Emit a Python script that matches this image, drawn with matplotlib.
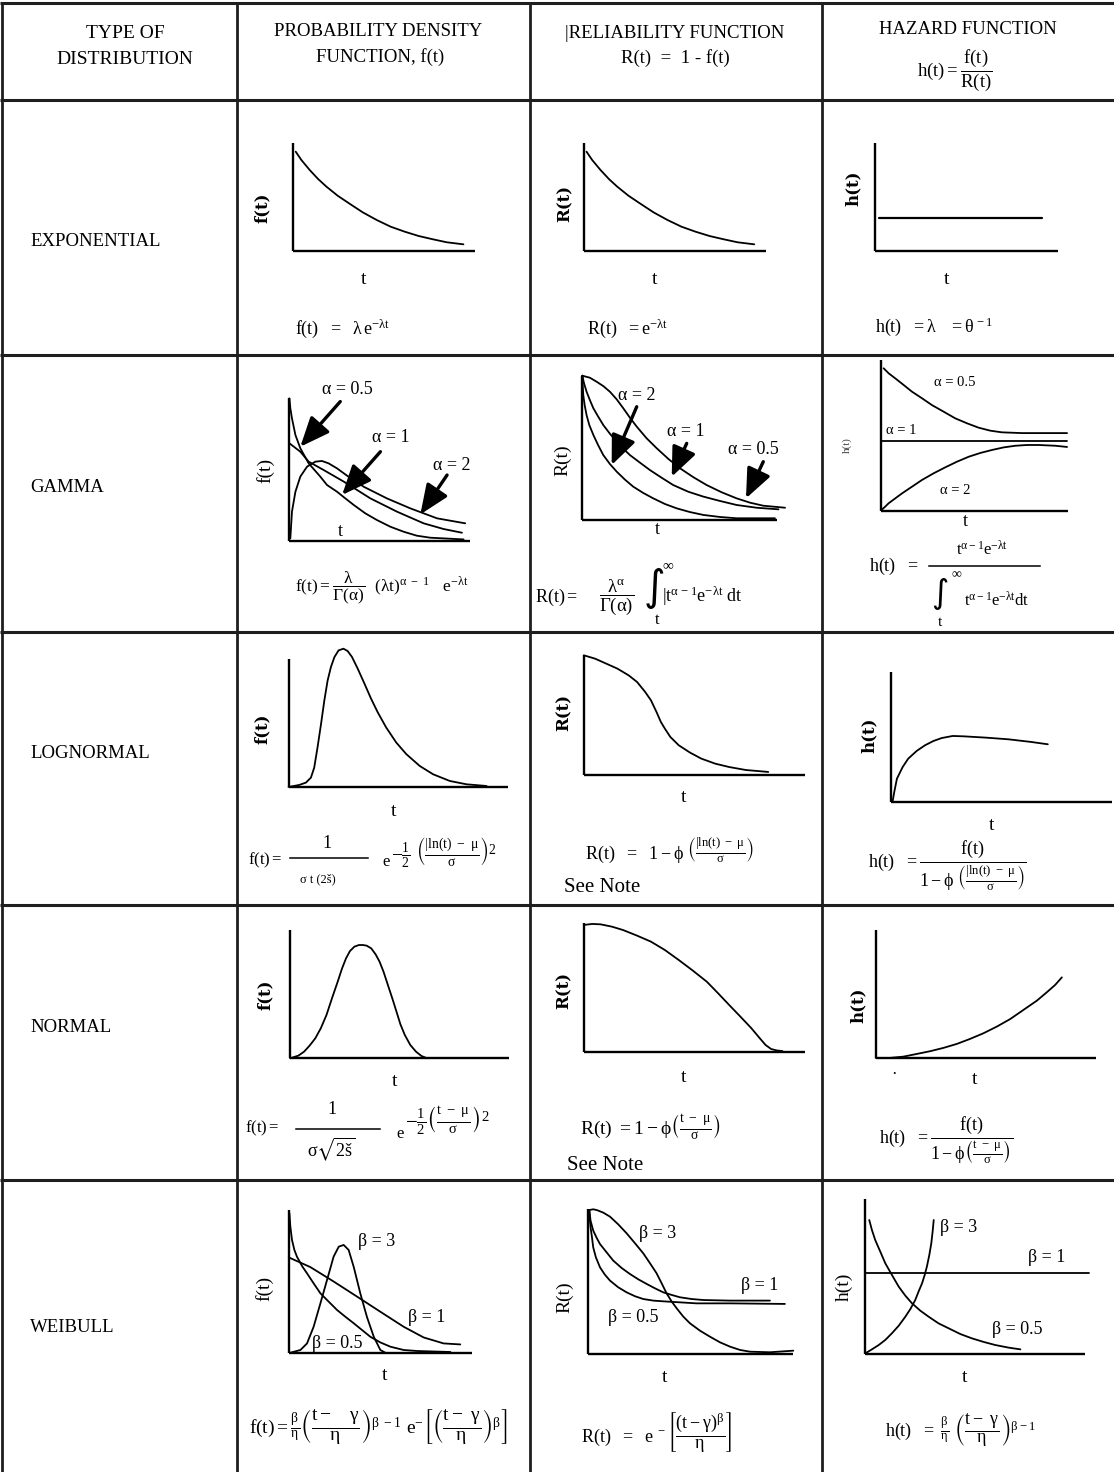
import matplotlib
matplotlib.use('Agg')
import matplotlib.pyplot as plt

W, H = 1114, 1472
plt.rcParams['font.family'] = ['Liberation Serif', 'DejaVu Serif']
plt.rcParams['mathtext.fontset'] = 'custom'
plt.rcParams['mathtext.rm'] = 'Liberation Serif'
plt.rcParams['mathtext.it'] = 'Liberation Serif'
plt.rcParams['mathtext.bf'] = 'Liberation Serif:bold'
plt.rcParams['mathtext.default'] = 'rm'
plt.rcParams['mathtext.fallback'] = 'stix'

# ------------------------------------------------------------------ data
distributions = ['EXPONENTIAL', 'GAMMA', 'LOGNORMAL', 'NORMAL', 'WEIBULL']
col_title_1 = ['TYPE OF', 'DISTRIBUTION']
col_title_2 = ['PROBABILITY DENSITY', 'FUNCTION, f(t)']
col_title_3 = ['|RELIABILITY FUNCTION', 'R(t)  =  1 - f(t)']
col_title_4 = ['HAZARD FUNCTION', r'$h(t) = \dfrac{f(t)}{R(t)}$']

# curve shapes (t and value as fractions of each small axis)
exp_t = [0.015, 0.046, 0.092, 0.138, 0.184, 0.246, 0.308, 0.384, 0.461, 0.538, 0.615, 0.692, 0.769, 0.846, 0.938]
exp_v = [0.917, 0.840, 0.747, 0.664, 0.593, 0.509, 0.439, 0.355, 0.284, 0.222, 0.176, 0.136, 0.106, 0.078, 0.059]
exp_h_t = [0.025, 0.915]
exp_h_v = [0.30, 0.30]

gamma_alpha_labels = ['\u03b1 = 0.5', '\u03b1 = 1', '\u03b1 = 2']
gam_f_a05_t = [0.004, 0.009, 0.018, 0.037, 0.064, 0.110, 0.174, 0.211, 0.266, 0.312, 0.358, 0.422, 0.486, 0.560, 0.633, 0.706, 0.780, 0.963]
gam_f_a05_v = [1.0, 0.930, 0.859, 0.742, 0.649, 0.543, 0.450, 0.391, 0.344, 0.297, 0.251, 0.192, 0.145, 0.098, 0.063, 0.035, 0.021, 0.009]
gam_f_a1_t = [0.004, 0.064, 0.110, 0.193, 0.303, 0.450, 0.596, 0.743, 0.853, 0.954]
gam_f_a1_v = [0.684, 0.625, 0.555, 0.496, 0.415, 0.297, 0.204, 0.122, 0.082, 0.056]
gam_f_a2_t = [0.009, 0.018, 0.037, 0.064, 0.101, 0.147, 0.183, 0.220, 0.266, 0.321, 0.413, 0.541, 0.670, 0.817, 0.972]
gam_f_a2_v = [0.016, 0.204, 0.344, 0.450, 0.520, 0.555, 0.560, 0.543, 0.508, 0.457, 0.379, 0.297, 0.227, 0.157, 0.122]

gam_R_top_t = [0.0, 0.039, 0.074, 0.108, 0.142, 0.177, 0.211, 0.245, 0.280, 0.331, 0.383, 0.443, 0.503, 0.572, 0.640, 0.717, 0.794, 0.863, 0.931, 1.043]
gam_R_top_v = [1.0, 0.986, 0.958, 0.928, 0.889, 0.836, 0.774, 0.709, 0.647, 0.566, 0.497, 0.423, 0.358, 0.296, 0.242, 0.192, 0.150, 0.120, 0.099, 0.085]
gam_R_mid_t = [0.0, 0.009, 0.022, 0.039, 0.057, 0.082, 0.108, 0.142, 0.177, 0.211, 0.245, 0.297, 0.348, 0.408, 0.468, 0.545, 0.623, 0.708, 0.794, 0.897, 1.009]
gam_R_mid_v = [1.0, 0.947, 0.889, 0.831, 0.774, 0.716, 0.658, 0.598, 0.543, 0.494, 0.450, 0.397, 0.346, 0.293, 0.242, 0.196, 0.162, 0.132, 0.104, 0.085, 0.074]
gam_R_low_t = [0.0, 0.002, 0.005, 0.012, 0.022, 0.036, 0.057, 0.081, 0.108, 0.142, 0.177, 0.220, 0.262, 0.314, 0.365, 0.425, 0.485, 0.554, 0.623, 0.708, 0.794, 0.991]
gam_R_low_v = [1.0, 0.935, 0.866, 0.797, 0.727, 0.658, 0.589, 0.520, 0.450, 0.388, 0.335, 0.279, 0.231, 0.187, 0.150, 0.111, 0.081, 0.055, 0.035, 0.021, 0.012, 0.012]

gam_h_a05_t = [0.0125, 0.039, 0.075, 0.120, 0.164, 0.218, 0.271, 0.334, 0.396, 0.459, 0.521, 0.584, 0.646, 0.754, 0.995]
gam_h_a05_v = [0.945, 0.912, 0.878, 0.834, 0.790, 0.746, 0.701, 0.657, 0.613, 0.580, 0.551, 0.531, 0.520, 0.515, 0.515]
gam_h_a1_t = [0.0, 0.995]
gam_h_a1_v = [0.465, 0.465]
gam_h_a2_t = [0.0, 0.021, 0.039, 0.075, 0.111, 0.164, 0.218, 0.280, 0.343, 0.405, 0.468, 0.530, 0.593, 0.655, 0.718, 0.780, 0.843, 0.932, 0.995]
gam_h_a2_v = [0.004, 0.027, 0.049, 0.082, 0.115, 0.159, 0.204, 0.248, 0.288, 0.325, 0.358, 0.383, 0.403, 0.420, 0.431, 0.436, 0.436, 0.431, 0.423]

log_f_t = [0.0, 0.049, 0.079, 0.102, 0.117, 0.132, 0.148, 0.163, 0.178, 0.193, 0.209, 0.228, 0.250, 0.269, 0.289, 0.315, 0.346, 0.376, 0.406, 0.444, 0.490, 0.536, 0.597, 0.658, 0.734, 0.810, 0.901]
log_f_v = [0.0, 0.016, 0.034, 0.073, 0.151, 0.308, 0.491, 0.674, 0.830, 0.935, 1.013, 1.065, 1.078, 1.060, 1.013, 0.922, 0.804, 0.687, 0.582, 0.465, 0.347, 0.256, 0.164, 0.099, 0.047, 0.021, 0.008]
log_R_t = [0.0, 0.051, 0.101, 0.152, 0.203, 0.241, 0.278, 0.304, 0.329, 0.349, 0.367, 0.392, 0.430, 0.481, 0.532, 0.595, 0.658, 0.734, 0.835]
log_R_v = [1.0, 0.972, 0.931, 0.889, 0.833, 0.778, 0.694, 0.625, 0.528, 0.444, 0.389, 0.319, 0.250, 0.189, 0.139, 0.097, 0.069, 0.044, 0.028]
log_h_t = [0.005, 0.013, 0.025, 0.051, 0.076, 0.114, 0.152, 0.190, 0.228, 0.278, 0.329, 0.430, 0.532, 0.633, 0.709]
log_h_v = [0.0, 0.077, 0.179, 0.269, 0.333, 0.392, 0.436, 0.469, 0.492, 0.508, 0.505, 0.495, 0.482, 0.462, 0.444]

nor_f_t = [0.0, 0.038, 0.064, 0.089, 0.115, 0.140, 0.166, 0.191, 0.217, 0.237, 0.255, 0.273, 0.293, 0.314, 0.332, 0.349, 0.370, 0.390, 0.408, 0.426, 0.446, 0.467, 0.485, 0.503, 0.523, 0.548, 0.574, 0.599, 0.625]
nor_f_v = [0.0, 0.021, 0.052, 0.099, 0.156, 0.234, 0.338, 0.468, 0.597, 0.701, 0.779, 0.836, 0.870, 0.883, 0.883, 0.878, 0.857, 0.810, 0.753, 0.675, 0.571, 0.462, 0.364, 0.265, 0.182, 0.104, 0.052, 0.018, 0.0]
nor_R_t = [0.0, 0.038, 0.076, 0.127, 0.177, 0.241, 0.304, 0.367, 0.430, 0.494, 0.557, 0.608, 0.658, 0.709, 0.759, 0.797, 0.823, 0.848, 0.873, 0.899]
nor_R_v = [0.987, 0.995, 0.992, 0.974, 0.948, 0.904, 0.857, 0.792, 0.714, 0.631, 0.545, 0.455, 0.364, 0.273, 0.182, 0.104, 0.052, 0.021, 0.010, 0.005]
nor_h_t = [0.0, 0.065, 0.126, 0.187, 0.247, 0.308, 0.369, 0.429, 0.490, 0.551, 0.612, 0.672, 0.733, 0.778, 0.816, 0.847]
nor_h_v = [0.003, 0.003, 0.013, 0.034, 0.055, 0.081, 0.112, 0.151, 0.195, 0.247, 0.306, 0.377, 0.449, 0.514, 0.571, 0.631]

weibull_beta_labels = ['\u03b2 = 3', '\u03b2 = 1', '\u03b2 = 0.5']
wei_f_b05_t = [0.004, 0.009, 0.018, 0.031, 0.045, 0.073, 0.100, 0.136, 0.173, 0.218, 0.264, 0.309, 0.355, 0.400, 0.445, 0.500, 0.555, 0.627, 0.700, 0.882]
wei_f_b05_v = [0.977, 0.883, 0.790, 0.720, 0.673, 0.607, 0.556, 0.486, 0.416, 0.358, 0.299, 0.252, 0.206, 0.159, 0.112, 0.072, 0.042, 0.019, 0.012, 0.005]
wei_f_b1_t = [0.0, 0.118, 0.245, 0.373, 0.500, 0.627, 0.736, 0.845, 0.936]
wei_f_b1_v = [0.668, 0.600, 0.499, 0.393, 0.287, 0.182, 0.107, 0.065, 0.058]
wei_f_b3_t = [0.009, 0.064, 0.100, 0.136, 0.173, 0.209, 0.245, 0.273, 0.300, 0.327, 0.355, 0.391, 0.427, 0.464, 0.500, 0.527]
wei_f_b3_v = [0.0, 0.019, 0.065, 0.182, 0.346, 0.509, 0.673, 0.743, 0.755, 0.720, 0.600, 0.414, 0.250, 0.112, 0.019, 0.0]

wei_R_b3_t = [0.005, 0.024, 0.041, 0.073, 0.106, 0.146, 0.187, 0.228, 0.268, 0.301, 0.333, 0.358, 0.382, 0.407, 0.431, 0.463, 0.496, 0.545, 0.593, 0.642, 0.691, 0.740, 0.789, 0.886, 1.0]
wei_R_b3_v = [0.995, 1.0, 0.995, 0.977, 0.949, 0.896, 0.834, 0.765, 0.696, 0.627, 0.558, 0.488, 0.419, 0.362, 0.316, 0.259, 0.212, 0.161, 0.120, 0.081, 0.051, 0.028, 0.016, 0.012, 0.023]
wei_R_b1_t = [0.005, 0.011, 0.024, 0.041, 0.057, 0.089, 0.122, 0.163, 0.203, 0.244, 0.285, 0.325, 0.366, 0.407, 0.447, 0.504, 0.561, 0.691, 0.886]
wei_R_b1_v = [0.991, 0.922, 0.853, 0.802, 0.760, 0.703, 0.645, 0.594, 0.553, 0.516, 0.484, 0.454, 0.426, 0.408, 0.392, 0.380, 0.373, 0.369, 0.369]
wei_R_b05_t = [0.005, 0.008, 0.011, 0.018, 0.024, 0.037, 0.057, 0.081, 0.106, 0.146, 0.187, 0.228, 0.268, 0.317, 0.366, 0.528, 0.691, 0.959]
wei_R_b05_v = [0.991, 0.922, 0.876, 0.806, 0.737, 0.668, 0.599, 0.548, 0.507, 0.461, 0.426, 0.399, 0.380, 0.369, 0.364, 0.350, 0.350, 0.346]

wei_h_b1_t = [0.0, 1.015]
wei_h_b1_v = [0.522, 0.522]
wei_h_b05_t = [0.018, 0.030, 0.045, 0.068, 0.091, 0.121, 0.152, 0.182, 0.212, 0.250, 0.288, 0.333, 0.379, 0.432, 0.485, 0.538, 0.591, 0.652, 0.705]
wei_h_b05_v = [0.866, 0.802, 0.737, 0.662, 0.586, 0.511, 0.435, 0.377, 0.328, 0.280, 0.241, 0.198, 0.166, 0.129, 0.101, 0.078, 0.058, 0.041, 0.030]
wei_h_b3_t = [0.0, 0.030, 0.061, 0.091, 0.121, 0.152, 0.182, 0.205, 0.227, 0.242, 0.258, 0.270, 0.280, 0.291, 0.300, 0.306, 0.311]
wei_h_b3_v = [0.004, 0.030, 0.058, 0.091, 0.134, 0.183, 0.241, 0.291, 0.349, 0.403, 0.457, 0.511, 0.565, 0.640, 0.716, 0.791, 0.866]

# ------------------------------------------------------------------ figure
fig = plt.figure(figsize=(W / 100, H / 100), dpi=100)
bg = fig.add_axes([0, 0, 1, 1])
bg.set_xlim(0, W)
bg.set_ylim(H, 0)
bg.axis('off')
bg.set_autoscale_on(False)

LINE = '#1e1e1e'
for y in [3, 100, 355, 632, 905, 1180]:
    bg.plot([0, W], [y, y], color=LINE, lw=2.2, solid_capstyle='butt')
for x in [1.5, 237, 530, 822]:
    bg.plot([x, x], [3, H], color=LINE, lw=2.0, solid_capstyle='butt')


def T(x, y, s, size=13, ha='center', va='center', **kw):
    bg.text(x, y, s, fontsize=size, ha=ha, va=va, **kw)


def bar(x0, x1, y):
    # fraction bar of a hand-set formula
    bg.plot([x0, x1], [y, y], color='black', lw=1.1)


def cell_axes(box):
    l, t, r, b = box
    ax = fig.add_axes([l / W, 1 - b / H, (r - l) / W, (b - t) / H])
    ax.set_xlim(0, 1)
    ax.set_ylim(0, 1)
    for s in ('top', 'right'):
        ax.spines[s].set_visible(False)
    for s in ('left', 'bottom'):
        ax.spines[s].set_linewidth(1.7)
        ax.spines[s].set_color('black')
        ax.spines[s].set_capstyle('butt')
    ax.set_xticks([])
    ax.set_yticks([])
    ax.patch.set_alpha(0)
    return ax


def curve(ax, t, v, lw=1.3):
    ax.plot(t, v, color='black', lw=lw, clip_on=False,
            solid_capstyle='round', solid_joinstyle='round')


def arrow(ax, tail, tip):
    ax.annotate('', xy=tip, xytext=tail, xycoords='axes fraction',
                textcoords='axes fraction', annotation_clip=False,
                arrowprops=dict(arrowstyle='-|>,head_length=0.9,head_width=0.38',
                                mutation_scale=20, lw=2.4, color='black',
                                shrinkA=0, shrinkB=0))


# ---- header
T(125, 33, col_title_1[0], 14)
T(125, 60, col_title_1[1], 14)
T(378, 31, col_title_2[0], 13.5)
T(380, 57, col_title_2[1], 13.5)
T(675, 34, col_title_3[0], 13.5)
T(675, 58, col_title_3[1], 13.5)
T(968, 29, col_title_4[0], 13.5)
T(955, 70, col_title_4[1], 13.5)

# ---- row labels
for name, y in zip(distributions, [241, 487, 754, 1028, 1327]):
    T(30, y, name, 13.5, ha='left')

YL = dict(family=['DejaVu Serif'], rotation=90, fontweight='bold')

# ---- exponential
ax = cell_axes((293, 142.7, 474.7, 250.7))
curve(ax, exp_t, exp_v)
ax = cell_axes((583.8, 142.7, 765.5, 250.7))
curve(ax, exp_t, exp_v)
ax = cell_axes((874.6, 143, 1058, 250.7))
curve(ax, exp_h_t, exp_h_v, lw=1.6)
T(262, 208, 'f(t)', 12, **YL)
T(565, 203, 'R(t)', 12, **YL)
T(853, 188, 'h(t)', 12, **YL)
for x in [364, 655, 947]:
    T(x, 280, 't', 14)
T(343, 329, r'$f(t)\ \ =\ \ \lambda\,e^{-\lambda t}$', 13)
T(627, 329, r'$R(t)\ \ = e^{-\lambda t}$', 13)
T(934, 327, r'$h(t)\ \ = \lambda\ \ \ = \theta^{\,-1}$', 13)

# ---- gamma
ax = cell_axes((288.7, 398.3, 470.3, 540.7))
curve(ax, gam_f_a05_t, gam_f_a05_v)
curve(ax, gam_f_a1_t, gam_f_a1_v)
curve(ax, gam_f_a2_t, gam_f_a2_v)
arrow(ax, (0.284, 0.977), (0.064, 0.660))
arrow(ax, (0.505, 0.625), (0.294, 0.321))
arrow(ax, (0.872, 0.461), (0.725, 0.185))
T(347, 390, gamma_alpha_labels[0], 13)
T(391, 437, gamma_alpha_labels[1], 13)
T(452, 465, gamma_alpha_labels[2], 13)

ax = cell_axes((582.3, 375.7, 776.7, 520))
curve(ax, gam_R_top_t, gam_R_top_v)
curve(ax, gam_R_mid_t, gam_R_mid_v)
curve(ax, gam_R_low_t, gam_R_low_v)
arrow(ax, (0.280, 0.785), (0.151, 0.381))
arrow(ax, (0.537, 0.531), (0.460, 0.300))
arrow(ax, (0.931, 0.404), (0.842, 0.150))
T(637, 395, gamma_alpha_labels[2], 13)
T(686, 432, gamma_alpha_labels[1], 13)
T(753, 450, gamma_alpha_labels[0], 13)

ax = cell_axes((881.3, 360, 1068, 510.7))
curve(ax, gam_h_a05_t, gam_h_a05_v)
curve(ax, gam_h_a1_t, gam_h_a1_v)
curve(ax, gam_h_a2_t, gam_h_a2_v)
T(955, 382, gamma_alpha_labels[0], 10.5)
T(901, 431, gamma_alpha_labels[1], 10.5)
T(955, 490, gamma_alpha_labels[2], 10.5)

T(265, 470, 'f(t)', 14, rotation=90)
T(563, 460, 'R(t)', 14, rotation=90)
T(847, 445, 'h(t)', 8, rotation=90, color='#444444')
T(340, 531, 't', 13)
T(657, 530, 't', 13)
T(965, 522, 't', 13)
T(382, 588, r'$f(t) = \dfrac{\lambda}{\Gamma(\alpha)}\ \ (\lambda t)^{\alpha\ -\ 1}\ \ \ e^{-\lambda t}$', 12.5)
# reliability: hand-set integral
T(535, 597, r'$R(t) =$', 13, ha='left')
T(617, 597, r'$\dfrac{\lambda^{\alpha}}{\Gamma(\alpha)}$', 13.5)
T(654, 588, '\u222b', 30, family=['DejaVu Sans'])
T(668, 566, '\u221e', 11)
T(657, 620, 't', 12)
T(662, 596, r'$|t^{\alpha\,-1}e^{-\lambda t}\ dt$', 13, ha='left')
# hazard: hand-set fraction
T(869, 566, r'$h(t)\ \ =$', 13, ha='left')
T(982, 550, r'$t^{\alpha-1}e^{-\lambda t}$', 12)
bar(929, 1040, 566)
T(940, 594, '\u222b', 24, family=['DejaVu Sans'])
T(956, 575, '\u221e', 10)
T(940, 623, 't', 11)
T(997, 601, r'$t^{\alpha-1}e^{-\lambda t}dt$', 12)

# ---- lognormal
ax = cell_axes((288.5, 658.7, 508.3, 787))
curve(ax, log_f_t, log_f_v)
ax = cell_axes((583.8, 655.3, 804.7, 775.3))
curve(ax, log_R_t, log_R_v)
ax = cell_axes((891.4, 672, 1112, 802))
curve(ax, log_h_t, log_h_v)
T(262, 729, 'f(t)', 12, **YL)
T(564, 712, 'R(t)', 12, **YL)
T(869, 735, 'h(t)', 12, **YL)
T(394, 812, 't', 14)
T(684, 798, 't', 14)
T(992, 825, 't', 14)
T(248, 860, r'$f(t) =$', 12, ha='left')
T(327, 843, '1', 13)
bar(290, 368, 858)
T(318, 879, '\u03c3 t (2š)', 9)
T(386, 862, 'e', 12)
T(391, 853, r'$-\frac{1}{2}\ \left(\frac{|\ln(t)\ -\ \mu}{\sigma}\right)^{2}$', 14, ha='left')
T(670, 850, r'$R(t)\ \ =\ \ 1 - \phi\ \left(\frac{|\ln(t)\ -\ \mu}{\sigma}\right)$', 13)
T(564, 887, 'See Note', 15, ha='left')
T(947, 866, r'$h(t)\ \ = \dfrac{f(t)}{1 - \phi\ \left(\frac{|\ln(t)\ -\ \mu}{\sigma}\right)}$', 13)

# ---- normal
ax = cell_axes((290.1, 930, 509.4, 1058.3))
curve(ax, nor_f_t, nor_f_v)
ax = cell_axes((583.8, 923.3, 804.7, 1051.7))
curve(ax, nor_R_t, nor_R_v)
ax = cell_axes((875.7, 930, 1095.5, 1058.3))
curve(ax, nor_h_t, nor_h_v)
T(265, 995, 'f(t)', 12, **YL)
T(564, 990, 'R(t)', 12, **YL)
T(858, 1005, 'h(t)', 12, **YL)
T(395, 1082, 't', 14)
T(684, 1077, 't', 14)
T(975, 1080, 't', 14)
T(894, 1075, '\u00b7', 12)
T(245, 1128, r'$f(t) =$', 12, ha='left')
T(332, 1110, '1', 13)
bar(296, 380, 1129)
T(331, 1149, r'$\sigma\sqrt{2š}$', 13)
T(400, 1134, 'e', 12)
T(405, 1121, r'$-\frac{1}{2}\left(\frac{t\ -\ \mu}{\sigma}\right)^{2}$', 15, ha='left')
T(650, 1127, r'$R(t)\ = 1 - \phi\left(\frac{t\ -\ \mu}{\sigma}\right)$', 14)
T(567, 1165, 'See Note', 15, ha='left')
T(946, 1140, r'$h(t)\ \ = \dfrac{f(t)}{1 - \phi\left(\frac{t\ -\ \mu}{\sigma}\right)}$', 13)

# ---- weibull
ax = cell_axes((288.7, 1210, 472, 1352.7))
curve(ax, wei_f_b05_t, wei_f_b05_v)
curve(ax, wei_f_b1_t, wei_f_b1_v)
curve(ax, wei_f_b3_t, wei_f_b3_v)
T(377, 1242, weibull_beta_labels[0], 13)
T(427, 1318, weibull_beta_labels[1], 13)
T(337, 1343, weibull_beta_labels[2], 13)

ax = cell_axes((588.3, 1209.3, 793.3, 1354))
curve(ax, wei_R_b3_t, wei_R_b3_v)
curve(ax, wei_R_b1_t, wei_R_b1_v)
curve(ax, wei_R_b05_t, wei_R_b05_v)
T(658, 1233, weibull_beta_labels[0], 13)
T(760, 1285, weibull_beta_labels[1], 13)
T(633, 1317, weibull_beta_labels[2], 13)

ax = cell_axes((865.3, 1199.3, 1085.3, 1354))
curve(ax, wei_h_b1_t, wei_h_b1_v)
curve(ax, wei_h_b05_t, wei_h_b05_v)
curve(ax, wei_h_b3_t, wei_h_b3_v)
T(959, 1227, weibull_beta_labels[0], 13)
T(1047, 1258, weibull_beta_labels[1], 13)
T(1017, 1330, weibull_beta_labels[2], 13)

T(264, 1288, 'f(t)', 14, rotation=90)
T(565, 1297, 'R(t)', 14, rotation=90)
T(844, 1287, 'h(t)', 14, rotation=90)
T(385, 1376, 't', 14)
T(665, 1377, 't', 14)
T(965, 1378, 't', 14)
T(378, 1427, r'$f(t) = \frac{\beta}{\eta}\left(\dfrac{t-\ \ \ \gamma}{\eta}\right)^{\beta\ -1}\ e^{-}\left[\left(\dfrac{t-\ \gamma}{\eta}\right)^{\beta}\right]$', 14)
T(656, 1432, r'$R(t)\ \ =\ \ e^{\ -}\left[\dfrac{(t-\gamma)^{\beta}}{\eta}\right]$', 13)
T(960, 1430, r'$h(t)\ \ =\ \frac{\beta}{\eta}\ \left(\dfrac{t-\ \gamma}{\eta}\right)^{\beta-1}$', 13)

fig.savefig('out.png', dpi=100)
